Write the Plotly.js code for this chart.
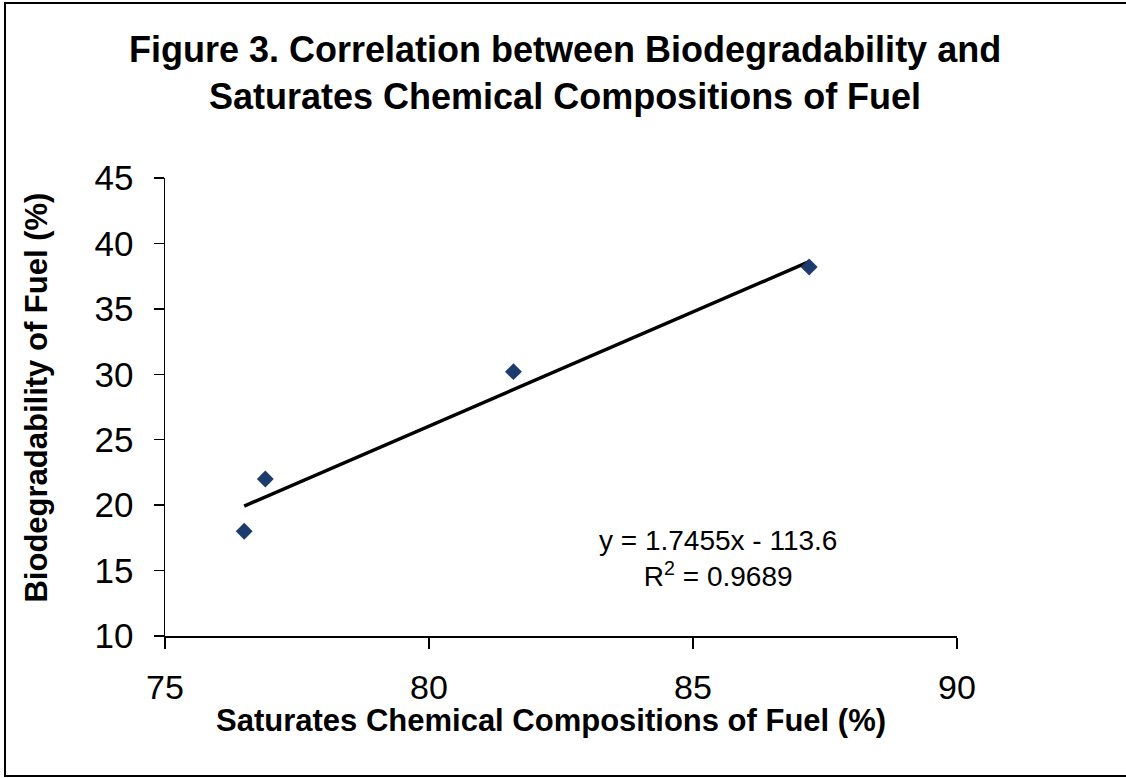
<!DOCTYPE html>
<html>
<head>
<meta charset="utf-8">
<script src="https://cdn.plot.ly/plotly-3.0.1.min.js"></script>
<style>
html,body{margin:0;padding:0;background:#fff;}
#wrap{position:relative;width:1126px;height:778px;}
#chart{position:absolute;left:0;top:0;width:1126px;height:778px;}
#frame{position:absolute;left:4px;top:2px;width:1130px;height:771px;border-left:2px solid #000;border-top:2px solid #000;border-bottom:2px solid #000;pointer-events:none;}
</style>
</head>
<body>
<div id="wrap"><div id="chart"></div><div id="frame"></div></div>
<script>
// Data
const saturates = [76.5, 76.9, 81.6, 87.2];
const biodegradability = [18.0, 22.0, 30.2, 38.2];
// Trendline equation shown on the chart
const slope = 1.7455;
const intercept = -113.6;
const rSquared = 0.9689;
const xTicks = [75, 80, 85, 90];
const yTicks = [10, 15, 20, 25, 30, 35, 40, 45];
const titleLines = ['Figure 3. Correlation between Biodegradability and', 'Saturates Chemical Compositions of Fuel'];
const xTitle = 'Saturates Chemical Compositions of Fuel (%)';
const yTitle = 'Biodegradability of Fuel (%)';

const xMin = Math.min(...saturates), xMax = Math.max(...saturates);
const trendX = [xMin, xMax];
const trendY = trendX.map(x => slope * x + intercept);

const font = 'Liberation Sans, Arial, sans-serif';

const data = [
  {
    x: trendX, y: trendY, mode: 'lines', type: 'scatter',
    line: {color: '#000', width: 3.5}, hoverinfo: 'skip', showlegend: false
  },
  {
    x: saturates, y: biodegradability, mode: 'markers', type: 'scatter',
    marker: {symbol: 'diamond', size: 13, color: '#1d3c6e'}, showlegend: false
  }
];

const layout = {
  width: 1126, height: 778,
  paper_bgcolor: '#fff', plot_bgcolor: '#fff',
  margin: {l: 165, r: 169, t: 178, b: 142, pad: 0},
  font: {family: font, color: '#000'},
  xaxis: {
    range: [75, 90], tickvals: xTicks, ticktext: xTicks.map(String),
    showgrid: false, zeroline: false, showline: true, linecolor: '#000', linewidth: 1.5,
    ticks: 'outside', ticklen: 11, tickcolor: '#000', tickwidth: 1.5,
    ticklabelstandoff: 10,
    tickfont: {family: font, size: 34, color: '#000'}
  },
  yaxis: {
    range: [10, 45], tickvals: yTicks, ticktext: yTicks.map(String),
    showgrid: false, zeroline: false, showline: true, linecolor: '#000', linewidth: 1.5,
    ticks: 'outside', ticklen: 10, tickcolor: '#000', tickwidth: 1.5,
    ticklabelstandoff: 13,
    tickfont: {family: font, size: 35, color: '#000'}
  },
  annotations: [
    {
      x: 0.505, y: 1.28, xref: 'paper', yref: 'paper', xanchor: 'center', yanchor: 'middle',
      text: '<b>' + titleLines[0] + '</b>', showarrow: false,
      font: {family: font, size: 36, color: '#000'}
    },
    {
      x: 0.505, y: 1.177, xref: 'paper', yref: 'paper', xanchor: 'center', yanchor: 'middle',
      text: '<b>' + titleLines[1] + '</b>', showarrow: false,
      font: {family: font, size: 36, color: '#000'}
    },
    {
      x: 0.487, y: -0.185, xref: 'paper', yref: 'paper', xanchor: 'center', yanchor: 'middle',
      text: '<b>' + xTitle + '</b>', showarrow: false,
      font: {family: font, size: 31, color: '#000'}
    },
    {
      x: -0.162, y: 0.52, xref: 'paper', yref: 'paper', xanchor: 'center', yanchor: 'middle',
      text: '<b>' + yTitle + '</b>', showarrow: false, textangle: -90,
      font: {family: font, size: 31, color: '#000'}
    },
    {
      x: 85.47, y: 15.96, xref: 'x', yref: 'y', xanchor: 'center', yanchor: 'middle',
      text: 'y = ' + slope + 'x - ' + Math.abs(intercept) + '<br>R<sup>2</sup> = ' + rSquared,
      showarrow: false, align: 'center',
      font: {family: font, size: 28, color: '#000'}
    }
  ]
};

Plotly.newPlot('chart', data, layout, {displayModeBar: false, staticPlot: true});
</script>
</body>
</html>
